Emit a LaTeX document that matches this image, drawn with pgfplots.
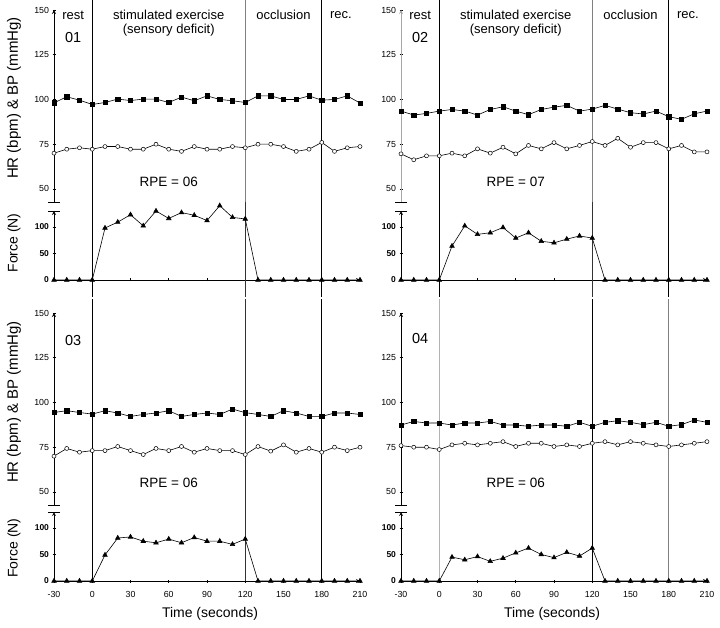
\documentclass[border=0pt]{standalone}
\usepackage{pgfplots}
\pgfplotsset{compat=1.18}
\usepackage{pgfplotstable}
\usepackage{fontspec}
\setmainfont{Liberation Sans}

\pgfplotstableread{
t hr bp f
-30 98.1 70.0 0
-20 101.5 72.2 0
-10 99.6 73.0 0
0 97.2 72.2 0
10 98.3 73.7 98
20 100.2 73.7 109
30 99.4 72.2 123
40 100.2 72.2 102
50 100.2 75.0 130
60 98.3 72.2 116
70 101.3 71.0 127
80 99.3 73.7 122
90 102.0 72.2 112
100 100.0 72.2 140
110 99.3 73.7 118
120 98.3 73.0 115
130 102.0 75.0 0
140 102.0 75.0 0
150 100.0 73.7 0
160 100.0 71.0 0
170 102.0 72.2 0
180 99.6 76.0 0
190 100.0 71.0 0
200 102.0 73.0 0
210 98.0 73.7 0
}\dataA

\pgfplotstableread{
t hr bp f
-30 93.5 69.6 0
-20 91.3 66.3 0
-10 92.2 68.5 0
0 93.5 68.5 0
10 94.4 70.0 64
20 93.5 68.5 102
30 91.3 72.4 86
40 94.4 70.0 89
50 95.9 73.3 99
60 93.5 69.6 79
70 91.5 74.3 89
80 94.4 72.4 73
90 95.7 75.9 70
100 96.7 72.4 77
110 93.5 74.3 83
120 94.6 76.5 79
130 96.7 74.3 0
140 94.6 78.3 0
150 92.6 73.3 0
160 91.9 75.9 0
170 93.5 75.9 0
180 90.4 72.4 0
190 88.9 74.3 0
200 92.0 70.7 0
210 93.5 70.7 0
}\dataB

\pgfplotstableread{
t hr bp f
-30 94.4 70.0 0
-20 95.4 74.3 0
-10 94.4 72.2 0
0 93.5 73.1 0
10 95.4 73.1 49
20 94.1 75.4 81
30 92.2 73.1 83
40 93.3 70.9 75
50 94.1 74.3 72
60 95.4 73.1 79
70 92.2 75.4 72
80 93.3 72.2 82
90 94.1 74.3 75
100 93.3 73.1 75
110 96.3 73.1 69
120 94.3 70.9 79
130 93.3 75.4 0
140 92.2 72.8 0
150 95.4 76.3 0
160 94.1 72.2 0
170 92.2 74.3 0
180 92.2 72.2 0
190 94.1 75.0 0
200 94.1 73.1 0
210 93.3 75.0 0
}\dataC

\pgfplotstableread{
t hr bp f
-30 87.4 75.9 0
-20 89.4 75.0 0
-10 88.5 75.0 0
0 88.5 73.7 0
10 87.4 76.3 45
20 88.5 77.2 40
30 88.5 76.3 46
40 89.4 77.2 37
50 87.4 78.1 43
60 87.4 75.4 53
70 86.7 77.2 62
80 87.4 77.2 50
90 87.4 75.4 44
100 86.7 76.3 54
110 88.9 75.4 47
120 86.7 77.2 62
130 88.9 78.1 0
140 89.8 76.3 0
150 88.9 78.1 0
160 87.6 77.2 0
170 88.9 76.3 0
180 86.7 75.4 0
190 87.6 76.3 0
200 90.2 77.2 0
210 88.9 78.1 0
}\dataD

\pgfplotsset{
 base/.style={scale only axis, width=306pt, xmin=-30, xmax=210, clip=false,
   /pgf/number format/assume math mode=true,
   tick align=outside, major tick length=3pt, tick style={black, line width=0.6pt},
   axis line style={-, line width=0.8pt},
   ticklabel style={font=\fontsize{8.8}{9}\selectfont}},
 upper/.style={base, height=192pt, ymin=42.7, ymax=150, axis x line=none, axis y line=left,
   ytick={50,75,100,125,150}, xtick=\empty},
 lower/.style={base, height=69pt, ymin=0, ymax=130, axis x line=bottom, axis y line=left,
   ytick={0,50,100}, xtick={-30,0,...,210},
   xticklabel style={yshift=-5pt},
   yticklabel style={font=\bfseries\fontsize{8.5}{9}\selectfont}},
 sq/.style={black, line width=0.6pt, mark=square*, mark size=2.2pt},
 ci/.style={black, line width=0.6pt, mark=*, mark size=2pt, mark options={fill=white, line width=0.5pt}},
 tri/.style={black, line width=0.6pt, mark=triangle*, mark size=2.6pt},
}
\newcommand\hdr{\fontsize{13}{14}\selectfont}
\newcommand\rpe{\fontsize{13.5}{14}\selectfont}
\newcommand\pnum{\fontsize{14.5}{15}\selectfont}
\newcommand\brk{\draw[line width=0.8pt] ([xshift=-6pt]rel axis cs:0,0) -- ([xshift=6pt]rel axis cs:0,0);}
\newcommand\brkt{\draw[line width=0.8pt] ([xshift=-6pt]rel axis cs:0,1) -- ([xshift=6pt]rel axis cs:0,1);}

\begin{document}
\begin{tikzpicture}[x=1pt,y=1pt]
\useasboundingbox (0,0) rectangle (720,627);

% ---------------- Panel 01 ----------------
\begin{axis}[upper, at={(54pt,425pt)}, anchor=south west]
 \draw[black, line width=0.8pt] (axis cs:0,42.7) -- (axis cs:0,155.6);
 \draw[gray, line width=0.8pt] (axis cs:120,42.7) -- (axis cs:120,155.6);
 \draw[black, line width=0.8pt] (axis cs:180,42.7) -- (axis cs:180,155.6);
 \addplot[sq] table[x=t,y=hr] {\dataA};
 \addplot[ci] table[x=t,y=bp] {\dataA};
 \node[font=\hdr] at (axis cs:-15,147.2) {rest};
 \node[font=\hdr] at (axis cs:60,147.2) {stimulated exercise};
 \node[font=\hdr] at (axis cs:60,139) {(sensory deficit)};
 \node[font=\hdr] at (axis cs:150,147.2) {occlusion};
 \node[font=\hdr] at (axis cs:195,147.2) {rec.};
 \node[font=\pnum] at (axis cs:-15,134.4) {01};
 \node[font=\rpe] at (axis cs:60,54) {RPE = 06};
 \brk
\end{axis}
\begin{axis}[lower, at={(54pt,347pt)}, anchor=south west, xticklabels={}]
 \draw[black, line width=0.8pt] (axis cs:0,-32) -- (axis cs:0,147);
 \draw[black!80, line width=0.8pt] (axis cs:120,-32) -- (axis cs:120,147);
 \draw[black, line width=0.8pt] (axis cs:180,-32) -- (axis cs:180,147);
 \addplot[tri] table[x=t,y=f] {\dataA};
 \brkt
\end{axis}

% ---------------- Panel 02 ----------------
\begin{axis}[upper, at={(401pt,425pt)}, anchor=south west, y axis line style={gray!70}]
 \draw[black, line width=0.8pt] (axis cs:0,42.7) -- (axis cs:0,155.6);
 \draw[gray, line width=0.8pt] (axis cs:120,42.7) -- (axis cs:120,155.6);
 \draw[black, line width=0.8pt] (axis cs:180,42.7) -- (axis cs:180,155.6);
 \addplot[sq] table[x=t,y=hr] {\dataB};
 \addplot[ci] table[x=t,y=bp] {\dataB};
 \node[font=\hdr] at (axis cs:-15,147.2) {rest};
 \node[font=\hdr] at (axis cs:60,147.2) {stimulated exercise};
 \node[font=\hdr] at (axis cs:60,139) {(sensory deficit)};
 \node[font=\hdr] at (axis cs:150,147.2) {occlusion};
 \node[font=\hdr] at (axis cs:195,147.2) {rec.};
 \node[font=\pnum] at (axis cs:-15,134.4) {02};
 \node[font=\rpe] at (axis cs:60,54) {RPE = 07};
 \brk
\end{axis}
\begin{axis}[lower, at={(401pt,347pt)}, anchor=south west, xticklabels={}]
 \draw[black, line width=0.8pt] (axis cs:0,-32) -- (axis cs:0,147);
 \draw[black!80, line width=0.8pt] (axis cs:120,-32) -- (axis cs:120,147);
 \draw[black, line width=0.8pt] (axis cs:180,-32) -- (axis cs:180,147);
 \addplot[tri] table[x=t,y=f] {\dataB};
 \brkt
\end{axis}

% ---------------- Panel 03 ----------------
\begin{axis}[upper, at={(54pt,122pt)}, anchor=south west]
 \draw[black, line width=0.8pt] (axis cs:0,42.7) -- (axis cs:0,157.8);
 \draw[black!80, line width=0.8pt] (axis cs:120,42.7) -- (axis cs:120,157.8);
 \draw[black, line width=0.8pt] (axis cs:180,42.7) -- (axis cs:180,157.8);
 \addplot[sq] table[x=t,y=hr] {\dataC};
 \addplot[ci] table[x=t,y=bp] {\dataC};
 \node[font=\pnum] at (axis cs:-15,134.4) {03};
 \node[font=\rpe] at (axis cs:60,55) {RPE = 06};
 \brk
\end{axis}
\begin{axis}[lower, at={(54pt,46pt)}, anchor=south west]
 \draw[black, line width=0.8pt] (axis cs:0,0) -- (axis cs:0,147);
 \draw[black!80, line width=0.8pt] (axis cs:120,0) -- (axis cs:120,147);
 \draw[black, line width=0.8pt] (axis cs:180,0) -- (axis cs:180,147);
 \addplot[tri] table[x=t,y=f] {\dataC};
 \brkt
\end{axis}

% ---------------- Panel 04 ----------------
\begin{axis}[upper, at={(401pt,122pt)}, anchor=south west]
 \draw[gray!60, line width=0.8pt] (axis cs:0,42.7) -- (axis cs:0,157.8);
 \draw[black, line width=1.1pt] (axis cs:120,42.7) -- (axis cs:120,157.8);
 \draw[gray, line width=0.8pt] (axis cs:180,42.7) -- (axis cs:180,157.8);
 \addplot[sq] table[x=t,y=hr] {\dataD};
 \addplot[ci] table[x=t,y=bp] {\dataD};
 \node[font=\pnum] at (axis cs:-15,135.5) {04};
 \node[font=\rpe] at (axis cs:60,55) {RPE = 06};
 \brk
\end{axis}
\begin{axis}[lower, at={(401pt,46pt)}, anchor=south west]
 \draw[gray!60, line width=0.8pt] (axis cs:0,0) -- (axis cs:0,147);
 \draw[black, line width=1.1pt] (axis cs:120,0) -- (axis cs:120,147);
 \draw[gray, line width=0.8pt] (axis cs:180,0) -- (axis cs:180,147);
 \addplot[tri] table[x=t,y=f] {\dataD};
 \brkt
\end{axis}

% axis titles
\node[rotate=90, font=\fontsize{15}{16}\selectfont] at (14,529) {HR (bpm) \& BP (mmHg)};
\node[rotate=90, font=\fontsize{14}{15}\selectfont] at (14,384) {Force (N)};
\node[rotate=90, font=\fontsize{15}{16}\selectfont] at (14,225) {HR (bpm) \& BP (mmHg)};
\node[rotate=90, font=\fontsize{14}{15}\selectfont] at (14,79) {Force (N)};
\node[font=\fontsize{14}{15}\selectfont] at (210,13) {Time (seconds)};
\node[font=\fontsize{14}{15}\selectfont] at (552,13) {Time (seconds)};
\end{tikzpicture}
\end{document}
